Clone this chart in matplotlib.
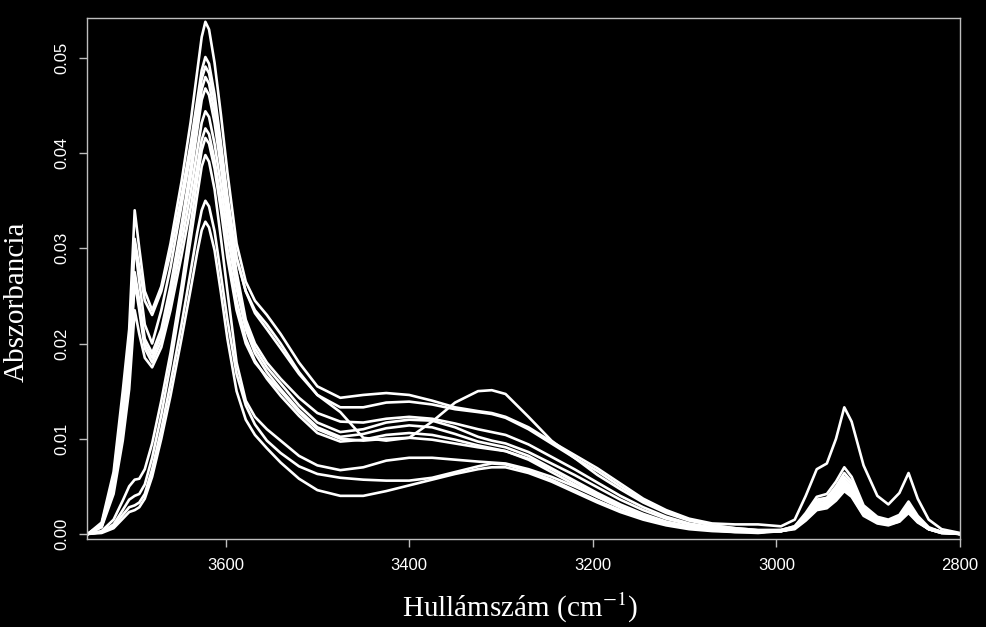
#!/usr/bin/env python3

import matplotlib

matplotlib.use("Agg")

from matplotlib.pyplot import close, savefig, subplots

FILENAME = "out.png"

WAVENUMBER = [
    3750, 3735, 3722, 3712, 3705, 3699, 3694, 3688, 3680, 3670,
    3660, 3648, 3638, 3631, 3626, 3622, 3618, 3612, 3605, 3598,
    3588, 3578, 3568, 3555, 3540, 3520, 3500, 3475, 3450, 3425,
    3400, 3375, 3350, 3325, 3310, 3295, 3270, 3245, 3220, 3195,
    3170, 3145, 3120, 3095, 3070, 3045, 3020, 2995, 2980, 2968,
    2956, 2945, 2935, 2926, 2918, 2905, 2890, 2878, 2866, 2856,
    2846, 2834, 2820, 2800,
]

SPECTRUM_1 = [
    0.0000, 0.0012, 0.0065, 0.0150, 0.0215, 0.0340, 0.0300, 0.0255, 0.0235, 0.0260,
    0.0305, 0.0370, 0.0433, 0.0485, 0.0522, 0.0538, 0.0530, 0.0495, 0.0440, 0.0380,
    0.0305, 0.0265, 0.0245, 0.0230, 0.0210, 0.0180, 0.0155, 0.0143, 0.0146, 0.0148,
    0.0146, 0.0140, 0.0133, 0.0129, 0.0127, 0.0123, 0.0112, 0.0097, 0.0083, 0.0069,
    0.0053, 0.0037, 0.0025, 0.0016, 0.0011, 0.0010, 0.0010, 0.0008, 0.0015, 0.0040,
    0.0068, 0.0074, 0.0100, 0.0133, 0.0118, 0.0072, 0.0040, 0.0031, 0.0043, 0.0064,
    0.0037, 0.0015, 0.0005, 0.0001,
]
SPECTRUM_2 = [
    0.0000, 0.0010, 0.0060, 0.0140, 0.0200, 0.0310, 0.0280, 0.0245, 0.0230, 0.0255,
    0.0295, 0.0355, 0.0410, 0.0455, 0.0487, 0.0501, 0.0494, 0.0462, 0.0410, 0.0355,
    0.0290, 0.0255, 0.0232, 0.0215, 0.0195, 0.0168, 0.0146, 0.0128, 0.0101, 0.0098,
    0.0101, 0.0118, 0.0138, 0.0150, 0.0151, 0.0147, 0.0123, 0.0098, 0.0080, 0.0062,
    0.0047, 0.0033, 0.0022, 0.0014, 0.0009, 0.0006, 0.0004, 0.0004, 0.0008, 0.0022,
    0.0039, 0.0042, 0.0055, 0.0070, 0.0060, 0.0030, 0.0018, 0.0015, 0.0020, 0.0034,
    0.0019, 0.0007, 0.0002, 0.0000,
]
SPECTRUM_3 = [
    0.0000, 0.0010, 0.0058, 0.0135, 0.0195, 0.0305, 0.0265, 0.0220, 0.0200, 0.0235,
    0.0280, 0.0345, 0.0400, 0.0446, 0.0478, 0.0491, 0.0484, 0.0455, 0.0405, 0.0350,
    0.0290, 0.0255, 0.0235, 0.0220, 0.0200, 0.0170, 0.0146, 0.0133, 0.0133, 0.0138,
    0.0139, 0.0136, 0.0131, 0.0128, 0.0126, 0.0122, 0.0110, 0.0095, 0.0080, 0.0066,
    0.0050, 0.0035, 0.0024, 0.0015, 0.0009, 0.0006, 0.0004, 0.0004, 0.0008, 0.0020,
    0.0036, 0.0038, 0.0050, 0.0064, 0.0055, 0.0028, 0.0016, 0.0013, 0.0018, 0.0031,
    0.0017, 0.0006, 0.0002, 0.0000,
]
SPECTRUM_4 = [
    0.0000, 0.0009, 0.0052, 0.0120, 0.0180, 0.0275, 0.0245, 0.0205, 0.0190, 0.0215,
    0.0260, 0.0325, 0.0385, 0.0433, 0.0467, 0.0480, 0.0473, 0.0443, 0.0395, 0.0340,
    0.0275, 0.0225, 0.0200, 0.0180, 0.0163, 0.0143, 0.0127, 0.0118, 0.0117, 0.0121,
    0.0123, 0.0121, 0.0116, 0.0110, 0.0107, 0.0104, 0.0094, 0.0081, 0.0068, 0.0054,
    0.0040, 0.0028, 0.0018, 0.0011, 0.0007, 0.0004, 0.0003, 0.0004, 0.0007, 0.0019,
    0.0034, 0.0036, 0.0047, 0.0060, 0.0052, 0.0026, 0.0015, 0.0013, 0.0017, 0.0029,
    0.0016, 0.0006, 0.0002, 0.0000,
]
SPECTRUM_5 = [
    0.0000, 0.0008, 0.0050, 0.0115, 0.0175, 0.0270, 0.0240, 0.0200, 0.0185, 0.0210,
    0.0255, 0.0318, 0.0375, 0.0423, 0.0456, 0.0468, 0.0461, 0.0432, 0.0385, 0.0330,
    0.0268, 0.0220, 0.0195, 0.0175, 0.0158, 0.0135, 0.0117, 0.0107, 0.0110, 0.0117,
    0.0120, 0.0119, 0.0112, 0.0102, 0.0098, 0.0095, 0.0086, 0.0074, 0.0062, 0.0049,
    0.0036, 0.0025, 0.0016, 0.0010, 0.0006, 0.0004, 0.0003, 0.0003, 0.0007, 0.0018,
    0.0032, 0.0034, 0.0044, 0.0057, 0.0049, 0.0025, 0.0014, 0.0012, 0.0016, 0.0027,
    0.0015, 0.0006, 0.0002, 0.0000,
]
SPECTRUM_6 = [
    0.0000, 0.0008, 0.0048, 0.0110, 0.0170, 0.0265, 0.0235, 0.0195, 0.0180, 0.0203,
    0.0245, 0.0305, 0.0359, 0.0402, 0.0432, 0.0444, 0.0438, 0.0410, 0.0366, 0.0315,
    0.0258, 0.0215, 0.0190, 0.0170, 0.0152, 0.0130, 0.0112, 0.0102, 0.0105, 0.0111,
    0.0114, 0.0112, 0.0105, 0.0097, 0.0094, 0.0091, 0.0082, 0.0069, 0.0056, 0.0043,
    0.0031, 0.0021, 0.0013, 0.0008, 0.0005, 0.0003, 0.0003, 0.0003, 0.0007, 0.0018,
    0.0031, 0.0033, 0.0043, 0.0055, 0.0047, 0.0024, 0.0014, 0.0012, 0.0015, 0.0026,
    0.0015, 0.0006, 0.0002, 0.0000,
]
SPECTRUM_7 = [
    0.0000, 0.0007, 0.0042, 0.0098, 0.0152, 0.0235, 0.0210, 0.0185, 0.0175, 0.0196,
    0.0235, 0.0292, 0.0343, 0.0385, 0.0414, 0.0426, 0.0420, 0.0393, 0.0350, 0.0300,
    0.0245, 0.0205, 0.0182, 0.0163, 0.0145, 0.0124, 0.0106, 0.0097, 0.0099, 0.0104,
    0.0106, 0.0104, 0.0099, 0.0093, 0.0090, 0.0087, 0.0078, 0.0065, 0.0052, 0.0039,
    0.0028, 0.0018, 0.0012, 0.0007, 0.0004, 0.0003, 0.0002, 0.0003, 0.0006, 0.0017,
    0.0030, 0.0032, 0.0041, 0.0053, 0.0046, 0.0023, 0.0013, 0.0011, 0.0015, 0.0025,
    0.0014, 0.0005, 0.0002, 0.0000,
]
SPECTRUM_8 = [
    0.0000, 0.0003, 0.0015, 0.0035, 0.0050, 0.0057, 0.0058, 0.0068, 0.0095, 0.0140,
    0.0190, 0.0260, 0.0325, 0.0372, 0.0403, 0.0416, 0.0410, 0.0384, 0.0340, 0.0290,
    0.0235, 0.0200, 0.0180, 0.0165, 0.0150, 0.0128, 0.0110, 0.0100, 0.0098, 0.0100,
    0.0101, 0.0099, 0.0095, 0.0091, 0.0089, 0.0087, 0.0079, 0.0068, 0.0055, 0.0041,
    0.0029, 0.0019, 0.0012, 0.0007, 0.0004, 0.0003, 0.0002, 0.0003, 0.0006, 0.0016,
    0.0029, 0.0031, 0.0040, 0.0051, 0.0044, 0.0022, 0.0013, 0.0011, 0.0014, 0.0024,
    0.0014, 0.0005, 0.0002, 0.0000,
]
SPECTRUM_9 = [
    0.0000, 0.0002, 0.0010, 0.0025, 0.0036, 0.0040, 0.0042, 0.0052, 0.0080, 0.0125,
    0.0178, 0.0248, 0.0310, 0.0355, 0.0386, 0.0398, 0.0391, 0.0362, 0.0310, 0.0255,
    0.0180, 0.0140, 0.0123, 0.0110, 0.0098, 0.0082, 0.0072, 0.0067, 0.0070, 0.0077,
    0.0080, 0.0080, 0.0078, 0.0076, 0.0075, 0.0074, 0.0068, 0.0060, 0.0050, 0.0039,
    0.0028, 0.0019, 0.0012, 0.0007, 0.0004, 0.0003, 0.0002, 0.0003, 0.0006, 0.0016,
    0.0027, 0.0029, 0.0038, 0.0049, 0.0042, 0.0021, 0.0012, 0.0010, 0.0014, 0.0024,
    0.0013, 0.0005, 0.0001, 0.0000,
]
SPECTRUM_10 = [
    0.0000, 0.0002, 0.0008, 0.0020, 0.0028, 0.0030, 0.0033, 0.0042, 0.0068, 0.0110,
    0.0158, 0.0220, 0.0276, 0.0316, 0.0340, 0.0350, 0.0344, 0.0318, 0.0272, 0.0225,
    0.0168, 0.0135, 0.0115, 0.0098, 0.0085, 0.0071, 0.0063, 0.0059, 0.0057, 0.0056,
    0.0056, 0.0059, 0.0065, 0.0071, 0.0074, 0.0073, 0.0066, 0.0057, 0.0046, 0.0035,
    0.0025, 0.0017, 0.0010, 0.0006, 0.0004, 0.0002, 0.0002, 0.0003, 0.0006, 0.0015,
    0.0026, 0.0028, 0.0037, 0.0047, 0.0040, 0.0020, 0.0012, 0.0010, 0.0013, 0.0023,
    0.0013, 0.0005, 0.0001, 0.0000,
]
SPECTRUM_11 = [
    0.0000, 0.0001, 0.0006, 0.0016, 0.0023, 0.0025, 0.0028, 0.0037, 0.0060, 0.0100,
    0.0145, 0.0205, 0.0257, 0.0295, 0.0319, 0.0328, 0.0322, 0.0298, 0.0253, 0.0205,
    0.0150, 0.0120, 0.0104, 0.0090, 0.0075, 0.0058, 0.0046, 0.0040, 0.0040, 0.0045,
    0.0051, 0.0057, 0.0063, 0.0068, 0.0070, 0.0070, 0.0064, 0.0055, 0.0044, 0.0033,
    0.0023, 0.0015, 0.0009, 0.0005, 0.0003, 0.0002, 0.0001, 0.0003, 0.0005, 0.0014,
    0.0025, 0.0027, 0.0035, 0.0045, 0.0039, 0.0019, 0.0011, 0.0009, 0.0013, 0.0022,
    0.0012, 0.0005, 0.0001, 0.0000,
]

SPECTRA = [
    SPECTRUM_1, SPECTRUM_2, SPECTRUM_3, SPECTRUM_4, SPECTRUM_5, SPECTRUM_6,
    SPECTRUM_7, SPECTRUM_8, SPECTRUM_9, SPECTRUM_10, SPECTRUM_11,
]
X_TICKS = [3600, 3400, 3200, 3000, 2800]
Y_TICKS = [0.00, 0.01, 0.02, 0.03, 0.04, 0.05]


def main():
    matplotlib.rcParams["mathtext.fontset"] = "stix"
    (fig, ax) = subplots(figsize=(9.87, 6.27), dpi=100)
    fig.patch.set_facecolor("black")
    ax.set_facecolor("black")
    fig.subplots_adjust(left=0.0881, right=0.9726, bottom=0.1404, top=0.9713)
    for spectrum in SPECTRA:
        ax.plot(
            WAVENUMBER,
            spectrum,
            color="white",
            linewidth=1.9,
            solid_joinstyle="round",
        )
    ax.set_xlim(3751, 2800)
    ax.set_ylim(-0.00053, 0.0542)
    ax.set_xticks(X_TICKS)
    ax.set_yticks(Y_TICKS)
    ax.set_xticklabels([str(x) for x in X_TICKS])
    ax.set_yticklabels(["{:.2f}".format(y) for y in Y_TICKS])
    grey = "#bebebe"
    for spine in ax.spines.values():
        spine.set_color(grey)
        spine.set_linewidth(1.0)
    ax.tick_params(
        colors=grey,
        labelcolor="white",
        length=6,
        width=1.0,
        labelsize=12,
    )
    ax.tick_params(axis="x", pad=8)
    ax.tick_params(axis="y", pad=7)
    for label in ax.get_xticklabels() + ax.get_yticklabels():
        label.set_fontfamily("Liberation Sans")
    for label in ax.get_yticklabels():
        label.set_rotation(90)
        label.set_va("center")
    ax.set_xlabel(
        "Hullámszám (cm$^{-1}$)",
        color="white",
        fontsize=21,
        fontfamily="Liberation Serif",
    )
    ax.set_ylabel(
        "Abszorbancia",
        color="white",
        fontsize=21,
        fontfamily="Liberation Serif",
    )
    ax.xaxis.set_label_coords(0.496, -0.1)
    ax.yaxis.set_label_coords(-0.066, 0.455)
    savefig(FILENAME, facecolor="black")
    close()


if __name__ == "__main__":
    main()
